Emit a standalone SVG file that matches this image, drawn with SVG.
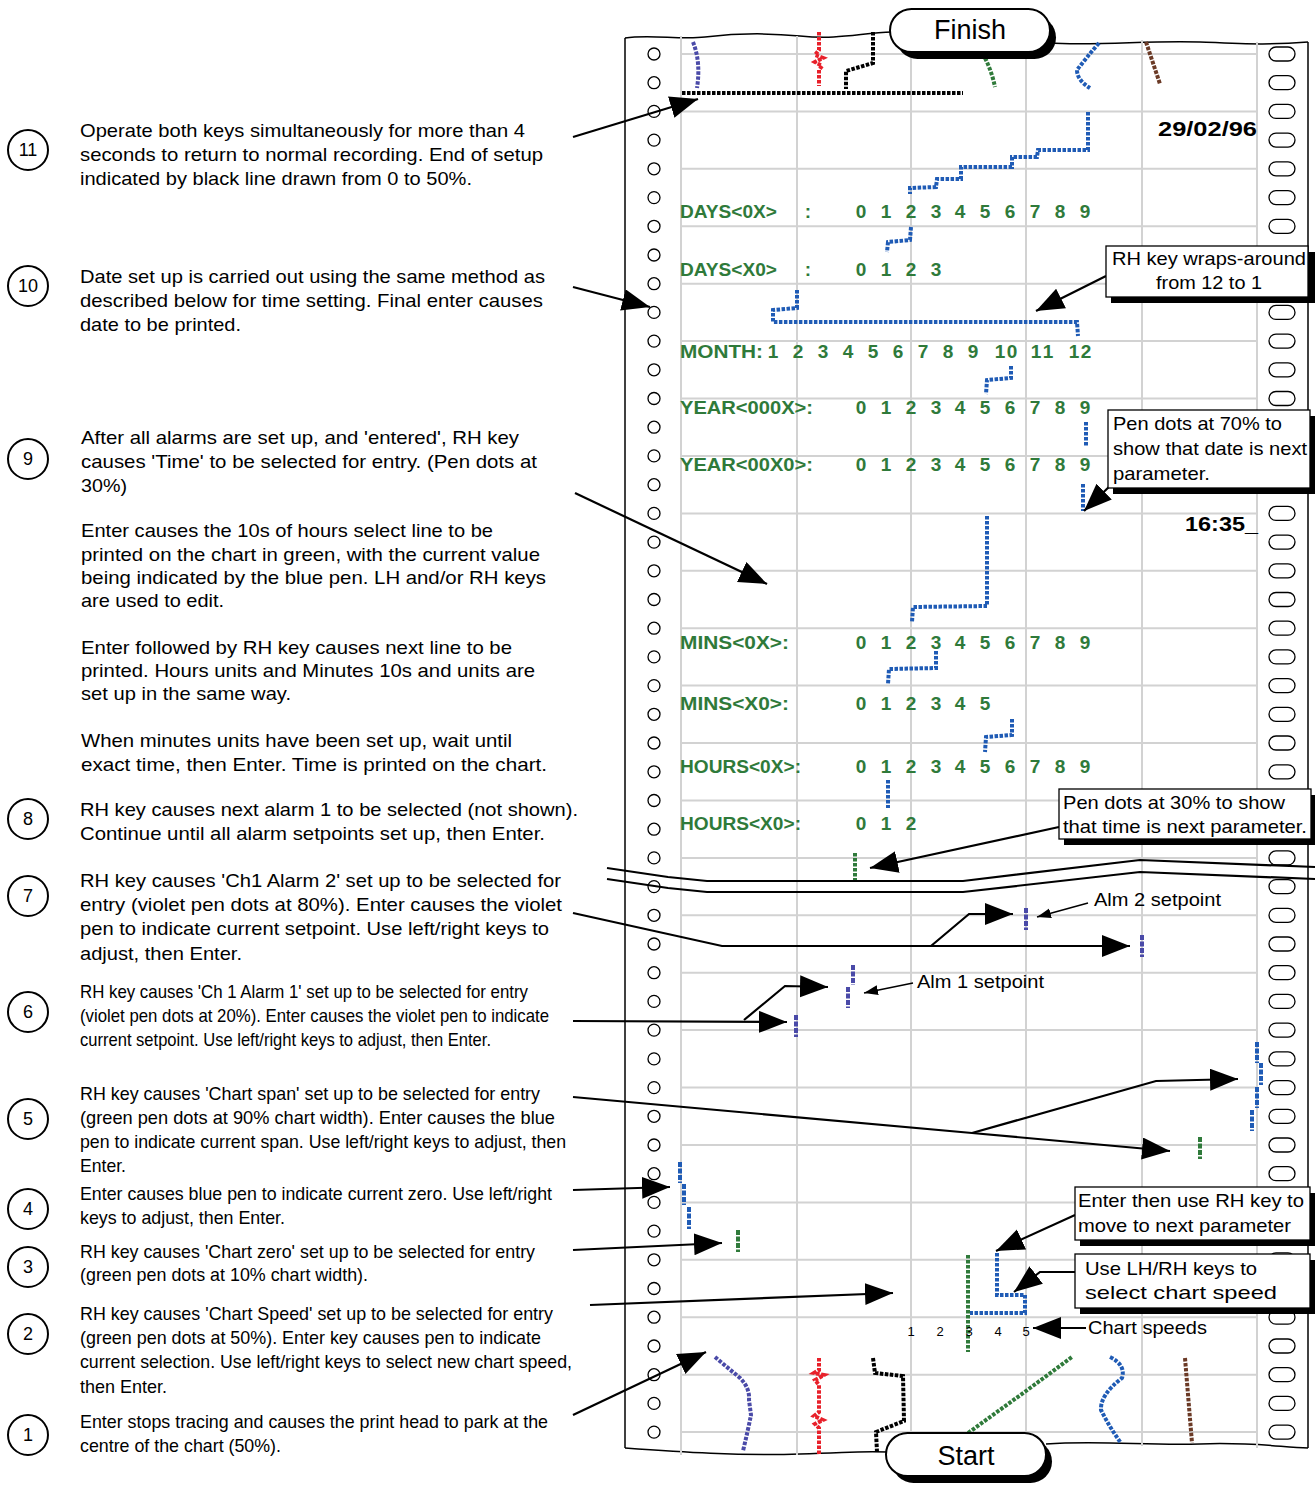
<svg xmlns="http://www.w3.org/2000/svg" width="1315" height="1486" viewBox="0 0 1315 1486" xml:space="preserve">
<defs>
<style>
.t{font-family:"Liberation Sans",Arial,sans-serif;font-size:18.5px;fill:#000}
.num{font-family:"Liberation Sans",Arial,sans-serif;font-size:18px;fill:#000;text-anchor:middle}
.pill{font-family:"Liberation Sans",Arial,sans-serif;font-size:27px;fill:#000;text-anchor:middle}
.dm{font-family:"Liberation Sans",Arial,sans-serif;font-weight:bold;font-size:19px;fill:#2f7a3a}
.dmd{font-family:"Liberation Sans",Arial,sans-serif;font-weight:bold;font-size:19px;fill:#2f7a3a;text-anchor:middle}
.dk{font-family:"Liberation Sans",Arial,sans-serif;font-weight:bold;font-size:20px;fill:#000}
.sp{font-family:"Liberation Sans",Arial,sans-serif;font-size:13px;fill:#000;text-anchor:middle}
.grid{stroke:#d2d2d2;stroke-width:2;fill:none}
.edge{stroke:#000;stroke-width:1.5;fill:none}
.pen{fill:none;stroke-width:4;stroke-dasharray:3.5 1.5}
.blue{stroke:#1f5bb5}.green{stroke:#2f7a3a}.vio{stroke:#4a4aa8}.red{stroke:#e8202a}.blk{stroke:#000}.brn{stroke:#6b3a26}
.mark{fill:none;stroke-width:4;stroke-dasharray:5 1.5}
.con{fill:none;stroke:#000;stroke-width:2.2}
.cons{fill:none;stroke:#000;stroke-width:1.4}
.box{fill:#fff;stroke:#000;stroke-width:1.3}
.shadow{fill:#000}
.hl{fill:#fff;stroke:#000;stroke-width:1.3}
</style>
<marker id="ah" markerUnits="userSpaceOnUse" markerWidth="30" markerHeight="24" refX="28" refY="11" orient="auto"><path d="M0,0 L28,11 L0,22 z" fill="#000"/></marker>
<marker id="as" markerUnits="userSpaceOnUse" markerWidth="16" markerHeight="12" refX="14" refY="5" orient="auto"><path d="M0,0 L14,5 L0,10 z" fill="#000"/></marker>
<circle id="lh" r="6" class="hl"/>
<rect id="rh" x="-13" y="-7" width="26" height="14" rx="7" class="hl"/>
</defs>
<rect width="1315" height="1486" fill="#fff"/>

<g id="chart">
<path class="edge" d="M625,38 L625,1448"/>
<path class="edge" d="M1308,42 L1308,1448"/>
<path class="edge" d="M625,38 C650,34 680,40 705,37 S760,32 800,36 S860,33 892,32"/>
<path class="edge" d="M1048,43 C1100,46 1150,40 1200,42 S1270,45 1308,42"/>
<path class="edge" d="M625,1448 C680,1452 740,1456 800,1454 S860,1451 888,1452"/>
<path class="edge" d="M1046,1444 C1100,1440 1150,1446 1200,1444 S1280,1447 1308,1448"/>
<g class="grid">
<path d="M681,36 V1455 M797,36 V1455 M911,33 V1455 M1026,38 V1450 M1142,40 V1446 M1257,42 V1448"/>
<path d="M681,54H1257 M681,111.4H1257 M681,168.8H1257 M681,226.3H1257 M681,283.7H1257 M681,341.1H1257 M681,398.5H1257 M681,455.9H1257 M681,513.4H1257 M681,570.8H1257 M681,628.2H1257 M681,685.6H1257 M681,743H1257 M681,800.5H1257 M681,857.9H1257 M681,915.3H1257 M681,972.7H1257 M681,1030.1H1257 M681,1087.6H1257 M681,1145H1257 M681,1202.4H1257 M681,1259.8H1257 M681,1317.2H1257 M681,1374.7H1257 M681,1432.1H1257"/>
</g>
<g id="left-holes">
<use href="#lh" x="654" y="54"/><use href="#lh" x="654" y="82.7"/><use href="#lh" x="654" y="111.4"/><use href="#lh" x="654" y="140.1"/><use href="#lh" x="654" y="168.8"/><use href="#lh" x="654" y="197.6"/><use href="#lh" x="654" y="226.3"/><use href="#lh" x="654" y="255"/><use href="#lh" x="654" y="283.7"/><use href="#lh" x="654" y="312.4"/><use href="#lh" x="654" y="341.1"/><use href="#lh" x="654" y="369.8"/><use href="#lh" x="654" y="398.5"/><use href="#lh" x="654" y="427.2"/><use href="#lh" x="654" y="455.9"/><use href="#lh" x="654" y="484.7"/><use href="#lh" x="654" y="513.4"/><use href="#lh" x="654" y="542.1"/><use href="#lh" x="654" y="570.8"/><use href="#lh" x="654" y="599.5"/><use href="#lh" x="654" y="628.2"/><use href="#lh" x="654" y="656.9"/><use href="#lh" x="654" y="685.6"/><use href="#lh" x="654" y="714.3"/><use href="#lh" x="654" y="743"/><use href="#lh" x="654" y="771.8"/><use href="#lh" x="654" y="800.5"/><use href="#lh" x="654" y="829.2"/><use href="#lh" x="654" y="857.9"/><use href="#lh" x="654" y="886.6"/><use href="#lh" x="654" y="915.3"/><use href="#lh" x="654" y="944"/><use href="#lh" x="654" y="972.7"/><use href="#lh" x="654" y="1001.4"/><use href="#lh" x="654" y="1030.1"/><use href="#lh" x="654" y="1058.9"/><use href="#lh" x="654" y="1087.6"/><use href="#lh" x="654" y="1116.3"/><use href="#lh" x="654" y="1145"/><use href="#lh" x="654" y="1173.7"/><use href="#lh" x="654" y="1202.4"/><use href="#lh" x="654" y="1231.1"/><use href="#lh" x="654" y="1259.8"/><use href="#lh" x="654" y="1288.5"/><use href="#lh" x="654" y="1317.2"/><use href="#lh" x="654" y="1346"/><use href="#lh" x="654" y="1374.7"/><use href="#lh" x="654" y="1403.4"/><use href="#lh" x="654" y="1432.1"/>
</g>
<g id="right-holes">
<use href="#rh" x="1282" y="54"/><use href="#rh" x="1282" y="82.7"/><use href="#rh" x="1282" y="111.4"/><use href="#rh" x="1282" y="140.1"/><use href="#rh" x="1282" y="168.8"/><use href="#rh" x="1282" y="197.6"/><use href="#rh" x="1282" y="226.3"/><use href="#rh" x="1282" y="255"/><use href="#rh" x="1282" y="283.7"/><use href="#rh" x="1282" y="312.4"/><use href="#rh" x="1282" y="341.1"/><use href="#rh" x="1282" y="369.8"/><use href="#rh" x="1282" y="398.5"/><use href="#rh" x="1282" y="427.2"/><use href="#rh" x="1282" y="455.9"/><use href="#rh" x="1282" y="484.7"/><use href="#rh" x="1282" y="513.4"/><use href="#rh" x="1282" y="542.1"/><use href="#rh" x="1282" y="570.8"/><use href="#rh" x="1282" y="599.5"/><use href="#rh" x="1282" y="628.2"/><use href="#rh" x="1282" y="656.9"/><use href="#rh" x="1282" y="685.6"/><use href="#rh" x="1282" y="714.3"/><use href="#rh" x="1282" y="743"/><use href="#rh" x="1282" y="771.8"/><use href="#rh" x="1282" y="800.5"/><use href="#rh" x="1282" y="829.2"/><use href="#rh" x="1282" y="857.9"/><use href="#rh" x="1282" y="886.6"/><use href="#rh" x="1282" y="915.3"/><use href="#rh" x="1282" y="944"/><use href="#rh" x="1282" y="972.7"/><use href="#rh" x="1282" y="1001.4"/><use href="#rh" x="1282" y="1030.1"/><use href="#rh" x="1282" y="1058.9"/><use href="#rh" x="1282" y="1087.6"/><use href="#rh" x="1282" y="1116.3"/><use href="#rh" x="1282" y="1145"/><use href="#rh" x="1282" y="1173.7"/><use href="#rh" x="1282" y="1202.4"/><use href="#rh" x="1282" y="1231.1"/><use href="#rh" x="1282" y="1259.8"/><use href="#rh" x="1282" y="1288.5"/><use href="#rh" x="1282" y="1317.2"/><use href="#rh" x="1282" y="1346"/><use href="#rh" x="1282" y="1374.7"/><use href="#rh" x="1282" y="1403.4"/><use href="#rh" x="1282" y="1432.1"/>
</g>

<g id="finish-traces">
<path class="pen vio" d="M693,42 Q701,62 697,88"/>
<path class="pen red" d="M819,32 L819,50 L815,55 L823,58 L815,62 L822,66 L819,70 L819,86"/>
<path class="pen blk" d="M873,32 L873,63 L846,71 L846,89"/>
<path class="pen blk" d="M682,93 L963,93"/>
<path class="pen green" d="M985,58 Q992,72 995,87"/>
<path class="pen blue" d="M1099,43 Q1086,58 1077,70 Q1077,80 1090,88"/>
<path class="pen brn" d="M1146,42 L1160,84"/>
</g>

<g id="setup-traces">
<path class="pen blue" d="M1088,112 L1088,150 L1038,150 L1037,157 L1012,157 L1012,167 L961,167 L961,179 L937,179 L936,187 L910,188 L910,194"/>
<path class="pen blue" d="M911,227 L910,240 L888,242 L887,252"/>
<path class="pen blue" d="M797,290 L797,308 L773,310 L773,322 L1077,322 L1078,336"/>
<path class="pen blue" d="M1011,366 L1011,378 L987,380 L986,394"/>
<path class="pen blue" d="M1086,422 L1086,447"/>
<path class="pen blue" d="M1083,484 L1083,511"/>
<path class="pen blue" d="M987,516 L987,606 L913,607 L912,622"/>
<path class="pen blue" d="M936,651 L936,668 L889,669 L888,684"/>
<path class="pen blue" d="M1012,719 L1012,735 L986,737 L985,752"/>
<path class="pen blue" d="M888,780 L888,808"/>
<path class="pen green" d="M855,853 L855,880"/>
</g>

<g id="printed">
<text class="dk" x="1158" y="136" textLength="99" lengthAdjust="spacingAndGlyphs">29/02/96</text>
<text class="dk" x="1185" y="531" textLength="73" lengthAdjust="spacingAndGlyphs">16:35_</text>
<text class="dm" x="680" y="218" textLength="97" lengthAdjust="spacingAndGlyphs">DAYS&lt;0X&gt;</text>
<text class="dmd" x="808" y="218">:</text>
<text class="dmd" x="861 873.5 886 898.5 911 923.5 936 948 960 972.5 985 997.5 1010 1022.5 1035 1047.5 1060 1072.5 1085" y="218">0 1 2 3 4 5 6 7 8 9</text>
<text class="dm" x="680" y="276" textLength="97" lengthAdjust="spacingAndGlyphs">DAYS&lt;X0&gt;</text>
<text class="dmd" x="808" y="276">:</text>
<text class="dmd" x="861 873.5 886 898.5 911 923.5 936" y="276">0 1 2 3</text>
<text class="dm" x="680" y="358" textLength="83" lengthAdjust="spacingAndGlyphs">MONTH:</text>
<text class="dmd" x="773 785 798 810 823 835 848 860 873 885 898 910 923 935 948 960 973 987 1000 1012 1024 1036 1048 1061 1074 1086" y="358">1 2 3 4 5 6 7 8 9 10 11 12</text>
<text class="dm" x="680" y="414" textLength="133" lengthAdjust="spacingAndGlyphs">YEAR&lt;000X&gt;:</text>
<text class="dmd" x="861 873.5 886 898.5 911 923.5 936 948 960 972.5 985 997.5 1010 1022.5 1035 1047.5 1060 1072.5 1085" y="414">0 1 2 3 4 5 6 7 8 9</text>
<text class="dm" x="680" y="471" textLength="133" lengthAdjust="spacingAndGlyphs">YEAR&lt;00X0&gt;:</text>
<text class="dmd" x="861 873.5 886 898.5 911 923.5 936 948 960 972.5 985 997.5 1010 1022.5 1035 1047.5 1060 1072.5 1085" y="471">0 1 2 3 4 5 6 7 8 9</text>
<text class="dm" x="680" y="649" textLength="109" lengthAdjust="spacingAndGlyphs">MINS&lt;0X&gt;:</text>
<text class="dmd" x="861 873.5 886 898.5 911 923.5 936 948 960 972.5 985 997.5 1010 1022.5 1035 1047.5 1060 1072.5 1085" y="649">0 1 2 3 4 5 6 7 8 9</text>
<text class="dm" x="680" y="710" textLength="109" lengthAdjust="spacingAndGlyphs">MINS&lt;X0&gt;:</text>
<text class="dmd" x="861 873.5 886 898.5 911 923.5 936 948 960 972.5 985" y="710">0 1 2 3 4 5</text>
<text class="dm" x="680" y="773" textLength="121" lengthAdjust="spacingAndGlyphs">HOURS&lt;0X&gt;:</text>
<text class="dmd" x="861 873.5 886 898.5 911 923.5 936 948 960 972.5 985 997.5 1010 1022.5 1035 1047.5 1060 1072.5 1085" y="773">0 1 2 3 4 5 6 7 8 9</text>
<text class="dm" x="680" y="830" textLength="121" lengthAdjust="spacingAndGlyphs">HOURS&lt;X0&gt;:</text>
<text class="dmd" x="861 873.5 886 898.5 911" y="830">0 1 2</text>
</g>

<g id="break">
<path class="con" d="M607,868 L668,877 L707,881 L963,881 L1140,860 L1315,867"/>
<path class="con" d="M607,879 L668,888 L707,892 L963,892 L1140,872 L1315,879"/>
</g>

<g id="marks">
<path class="mark vio" d="M1026,908 L1026,930"/>
<path class="mark vio" d="M1142,935 L1142,957"/>
<path class="mark vio" d="M853,965 L853,985"/>
<path class="mark vio" d="M848,987 L848,1008"/>
<path class="mark vio" d="M796,1015 L796,1037"/>
<path class="mark blue" d="M1257,1042 L1257,1063"/>
<path class="mark blue" d="M1261,1063 L1261,1085"/>
<path class="mark blue" d="M1257,1087 L1257,1108"/>
<path class="mark blue" d="M1252,1110 L1252,1131"/>
<path class="mark green" d="M1200,1137 L1200,1159"/>
<path class="mark blue" d="M680,1162 L680,1183"/>
<path class="mark blue" d="M684,1184 L684,1205"/>
<path class="mark blue" d="M689,1207 L689,1229"/>
<path class="mark green" d="M738,1230 L738,1252"/>
</g>

<g id="chart-speed">
<path class="pen green" d="M968,1255 L968,1352"/>
<path class="pen blue" d="M997,1253 L997,1295 L1025,1295 L1025,1313 L970,1313"/>
<text class="sp" x="911" y="1336">1</text>
<text class="sp" x="940" y="1336">2</text>
<text class="sp" x="969" y="1336">3</text>
<text class="sp" x="998" y="1336">4</text>
<text class="sp" x="1026" y="1336">5</text>
</g>

<g id="start-traces">
<path class="pen vio" d="M715,1357 L740,1378 Q750,1388 749,1400 L751,1415 Q748,1430 743,1451"/>
<path class="pen red" d="M819,1358 L819,1370 L814,1373 L824,1375 L815,1380 L819,1385 L819,1412 L814,1416 L823,1420 L815,1424 L819,1428 L819,1455"/>
<path class="pen blk" d="M873,1358 L875,1373 L903,1376 L904,1421 L876,1432 L877,1452"/>
<path class="pen green" d="M968,1433 L1026,1391 L1072,1357"/>
<path class="pen blue" d="M1110,1357 Q1126,1365 1122,1378 Q1100,1395 1101,1410 Q1110,1428 1121,1443"/>
<path class="pen brn" d="M1185,1358 L1192,1443"/>
</g>
</g>

<g id="connectors">
<path class="con" marker-end="url(#ah)" d="M573,137 L698,99"/>
<path class="con" marker-end="url(#ah)" d="M573,287 L650,307"/>
<path class="con" marker-end="url(#ah)" d="M575,493 L767,584"/>
<path class="con" marker-end="url(#ah)" d="M573,913 L722,946 L1130,946"/>
<path class="con" marker-end="url(#ah)" d="M931,946 L969,914 L1013,914"/>
<path class="con" marker-end="url(#ah)" d="M573,1021 L787,1022"/>
<path class="con" marker-end="url(#ah)" d="M744,1020 L785,986 L828,987"/>
<path class="con" marker-end="url(#ah)" d="M573,1097 L972,1133 L1170,1151"/>
<path class="con" marker-end="url(#ah)" d="M972,1133 L1156,1081 L1238,1079"/>
<path class="con" marker-end="url(#ah)" d="M573,1190 L670,1187"/>
<path class="con" marker-end="url(#ah)" d="M573,1250 L722,1243"/>
<path class="con" marker-end="url(#ah)" d="M590,1305 L893,1293"/>
<path class="con" marker-end="url(#ah)" d="M573,1415 L706,1352"/>
<path class="con" marker-end="url(#ah)" d="M1106,276 L1036,311"/>
<path class="con" marker-end="url(#ah)" d="M1112,484 L1084,511"/>
<path class="con" marker-end="url(#ah)" d="M1059,827 L870,868"/>
<path class="con" marker-end="url(#ah)" d="M1075,1215 L996,1251"/>
<path class="con" marker-end="url(#ah)" d="M1075,1272 L1040,1272 L1014,1292"/>
<path class="con" marker-end="url(#ah)" d="M1086,1328 L1033,1328"/>
<path class="cons" marker-end="url(#as)" d="M1088,903 L1037,917"/>
<path class="cons" marker-end="url(#as)" d="M913,983 L864,993"/>
</g>

<g id="label-alm2"><text class="t" x="1094" y="906" textLength="127" lengthAdjust="spacingAndGlyphs">Alm 2 setpoint</text></g>
<g id="label-alm1"><text class="t" x="917" y="988" textLength="127" lengthAdjust="spacingAndGlyphs">Alm 1 setpoint</text></g>
<g id="label-speeds"><text class="t" x="1088" y="1334" textLength="119" lengthAdjust="spacingAndGlyphs">Chart speeds</text></g>

<g id="callout-wrap">
<rect class="shadow" x="1111" y="252" width="204" height="51"/>
<rect class="box" x="1106" y="246" width="202" height="51"/>
<text class="t" x="1112" y="265" textLength="194" lengthAdjust="spacingAndGlyphs">RH key wraps-around</text>
<text class="t" x="1156" y="289" textLength="106" lengthAdjust="spacingAndGlyphs">from 12 to 1</text>
</g>
<g id="callout-70">
<rect class="shadow" x="1113" y="416" width="202" height="78"/>
<rect class="box" x="1108" y="410" width="202" height="78"/>
<text class="t" x="1113" y="430" textLength="169" lengthAdjust="spacingAndGlyphs">Pen dots at 70% to</text>
<text class="t" x="1113" y="455" textLength="194" lengthAdjust="spacingAndGlyphs">show that date is next</text>
<text class="t" x="1113" y="480" textLength="97" lengthAdjust="spacingAndGlyphs">parameter.</text>
</g>
<g id="callout-30">
<rect class="shadow" x="1064" y="795" width="251" height="50"/>
<rect class="box" x="1059" y="789" width="252" height="50"/>
<text class="t" x="1063" y="809" textLength="222" lengthAdjust="spacingAndGlyphs">Pen dots at 30% to show</text>
<text class="t" x="1063" y="833" textLength="244" lengthAdjust="spacingAndGlyphs">that time is next parameter.</text>
</g>
<g id="callout-enter">
<rect class="shadow" x="1080" y="1193" width="235" height="53"/>
<rect class="box" x="1075" y="1187" width="235" height="53"/>
<text class="t" x="1078" y="1207" textLength="226" lengthAdjust="spacingAndGlyphs">Enter then use RH key to</text>
<text class="t" x="1078" y="1232" textLength="213" lengthAdjust="spacingAndGlyphs">move to next parameter</text>
</g>
<g id="callout-keys">
<rect class="shadow" x="1080" y="1260" width="235" height="54"/>
<rect class="box" x="1075" y="1254" width="235" height="54"/>
<text class="t" x="1085" y="1275" textLength="172" lengthAdjust="spacingAndGlyphs">Use LH/RH keys to</text>
<text class="t" x="1085" y="1299" textLength="192" lengthAdjust="spacingAndGlyphs">select chart speed</text>
</g>

<g id="finish">
<rect class="shadow" x="896" y="16" width="160" height="43" rx="21.5"/>
<rect x="890" y="9" width="160" height="43" rx="21.5" fill="#fff" stroke="#000" stroke-width="2"/>
<text class="pill" x="970" y="39">Finish</text>
</g>
<g id="start">
<rect class="shadow" x="892" y="1440" width="160" height="43" rx="21.5"/>
<rect x="886" y="1433" width="160" height="43" rx="21.5" fill="#fff" stroke="#000" stroke-width="2"/>
<text class="pill" x="966" y="1465">Start</text>
</g>

<g id="step11">
<circle cx="28" cy="150" r="20" fill="none" stroke="#000" stroke-width="2"/><text class="num" x="28" y="156">11</text>
<text class="t" x="80" y="137" textLength="445" lengthAdjust="spacingAndGlyphs">Operate both keys simultaneously for more than 4</text>
<text class="t" x="80" y="161" textLength="463" lengthAdjust="spacingAndGlyphs">seconds to return to normal recording.  End of setup</text>
<text class="t" x="80" y="185" textLength="392" lengthAdjust="spacingAndGlyphs">indicated by black line drawn from 0 to 50%.</text>
</g>
<g id="step10">
<circle cx="28" cy="286" r="20" fill="none" stroke="#000" stroke-width="2"/><text class="num" x="28" y="292">10</text>
<text class="t" x="80" y="283" textLength="465" lengthAdjust="spacingAndGlyphs">Date set up is carried out using the same method as</text>
<text class="t" x="80" y="307" textLength="463" lengthAdjust="spacingAndGlyphs">described below for time setting.  Final enter causes</text>
<text class="t" x="80" y="331" textLength="161" lengthAdjust="spacingAndGlyphs">date to be printed.</text>
</g>
<g id="step9">
<circle cx="28" cy="459" r="20" fill="none" stroke="#000" stroke-width="2"/><text class="num" x="28" y="465">9</text>
<text class="t" x="81" y="444" textLength="438" lengthAdjust="spacingAndGlyphs">After all alarms are set up, and 'entered',  RH key</text>
<text class="t" x="81" y="468" textLength="456" lengthAdjust="spacingAndGlyphs">causes 'Time' to be selected for entry.  (Pen dots at</text>
<text class="t" x="81" y="492" textLength="46" lengthAdjust="spacingAndGlyphs">30%)</text>
<text class="t" x="81" y="537" textLength="412" lengthAdjust="spacingAndGlyphs">Enter causes the 10s of hours select line to be</text>
<text class="t" x="81" y="561" textLength="459" lengthAdjust="spacingAndGlyphs">printed on the chart in green,  with the current value</text>
<text class="t" x="81" y="584" textLength="465" lengthAdjust="spacingAndGlyphs">being indicated by the blue pen.  LH and/or RH keys</text>
<text class="t" x="81" y="607" textLength="143" lengthAdjust="spacingAndGlyphs">are used to edit.</text>
<text class="t" x="81" y="654" textLength="431" lengthAdjust="spacingAndGlyphs">Enter  followed by RH key causes next line to be</text>
<text class="t" x="81" y="677" textLength="454" lengthAdjust="spacingAndGlyphs">printed.  Hours units and Minutes 10s and units are</text>
<text class="t" x="81" y="700" textLength="210" lengthAdjust="spacingAndGlyphs">set up in the same way.</text>
<text class="t" x="81" y="747" textLength="431" lengthAdjust="spacingAndGlyphs">When minutes units have been set up,  wait until</text>
<text class="t" x="81" y="771" textLength="466" lengthAdjust="spacingAndGlyphs">exact time,  then Enter.  Time is printed on the chart.</text>
</g>
<g id="step8">
<circle cx="28" cy="819" r="20" fill="none" stroke="#000" stroke-width="2"/><text class="num" x="28" y="825">8</text>
<text class="t" x="80" y="816" textLength="498" lengthAdjust="spacingAndGlyphs">RH key causes next alarm 1 to be selected (not shown).</text>
<text class="t" x="80" y="840" textLength="465" lengthAdjust="spacingAndGlyphs">Continue until all alarm setpoints set up,  then Enter.</text>
</g>
<g id="step7">
<circle cx="28" cy="896" r="20" fill="none" stroke="#000" stroke-width="2"/><text class="num" x="28" y="902">7</text>
<text class="t" x="80" y="887" textLength="481" lengthAdjust="spacingAndGlyphs">RH key causes 'Ch1 Alarm 2' set up to be selected for</text>
<text class="t" x="80" y="911" textLength="482" lengthAdjust="spacingAndGlyphs">entry (violet pen dots at 80%).  Enter causes the violet</text>
<text class="t" x="80" y="935" textLength="469" lengthAdjust="spacingAndGlyphs">pen to indicate current setpoint. Use left/right keys to</text>
<text class="t" x="80" y="960" textLength="162" lengthAdjust="spacingAndGlyphs">adjust, then Enter.</text>
</g>
<g id="step6">
<circle cx="28" cy="1012" r="20" fill="none" stroke="#000" stroke-width="2"/><text class="num" x="28" y="1018">6</text>
<text class="t" x="80" y="998" textLength="448" lengthAdjust="spacingAndGlyphs">RH key causes 'Ch 1 Alarm 1' set up to be selected for entry</text>
<text class="t" x="80" y="1022" textLength="469" lengthAdjust="spacingAndGlyphs">(violet pen dots at 20%).  Enter causes the violet pen to indicate</text>
<text class="t" x="80" y="1046" textLength="411" lengthAdjust="spacingAndGlyphs">current setpoint. Use left/right keys to adjust, then Enter.</text>
</g>
<g id="step5">
<circle cx="28" cy="1119" r="20" fill="none" stroke="#000" stroke-width="2"/><text class="num" x="28" y="1125">5</text>
<text class="t" x="80" y="1100" textLength="460" lengthAdjust="spacingAndGlyphs">RH key causes 'Chart span' set up to be selected for entry</text>
<text class="t" x="80" y="1124" textLength="475" lengthAdjust="spacingAndGlyphs">(green pen dots at 90% chart width).  Enter causes the  blue</text>
<text class="t" x="80" y="1148" textLength="486" lengthAdjust="spacingAndGlyphs">pen to indicate current span. Use left/right keys to adjust, then</text>
<text class="t" x="80" y="1172" textLength="46" lengthAdjust="spacingAndGlyphs">Enter.</text>
</g>
<g id="step4">
<circle cx="28" cy="1209" r="20" fill="none" stroke="#000" stroke-width="2"/><text class="num" x="28" y="1215">4</text>
<text class="t" x="80" y="1200" textLength="472" lengthAdjust="spacingAndGlyphs">Enter causes blue pen to indicate current zero. Use left/right</text>
<text class="t" x="80" y="1224" textLength="205" lengthAdjust="spacingAndGlyphs">keys to adjust, then Enter.</text>
</g>
<g id="step3">
<circle cx="28" cy="1267" r="20" fill="none" stroke="#000" stroke-width="2"/><text class="num" x="28" y="1273">3</text>
<text class="t" x="80" y="1258" textLength="455" lengthAdjust="spacingAndGlyphs">RH key causes 'Chart zero' set up to be selected for entry</text>
<text class="t" x="80" y="1281" textLength="288" lengthAdjust="spacingAndGlyphs">(green pen dots at 10% chart width).</text>
</g>
<g id="step2">
<circle cx="28" cy="1334" r="20" fill="none" stroke="#000" stroke-width="2"/><text class="num" x="28" y="1340">2</text>
<text class="t" x="80" y="1320" textLength="473" lengthAdjust="spacingAndGlyphs">RH key causes 'Chart Speed' set up to be selected for entry</text>
<text class="t" x="80" y="1344" textLength="461" lengthAdjust="spacingAndGlyphs">(green pen dots at 50%). Enter key causes pen to indicate</text>
<text class="t" x="80" y="1368" textLength="492" lengthAdjust="spacingAndGlyphs">current selection. Use left/right keys to select new chart speed,</text>
<text class="t" x="80" y="1393" textLength="87" lengthAdjust="spacingAndGlyphs">then Enter.</text>
</g>
<g id="step1">
<circle cx="28" cy="1435" r="20" fill="none" stroke="#000" stroke-width="2"/><text class="num" x="28" y="1441">1</text>
<text class="t" x="80" y="1428" textLength="468" lengthAdjust="spacingAndGlyphs">Enter stops tracing and causes the print head to park at the</text>
<text class="t" x="80" y="1452" textLength="201" lengthAdjust="spacingAndGlyphs">centre of the chart (50%).</text>
</g>
</svg>
